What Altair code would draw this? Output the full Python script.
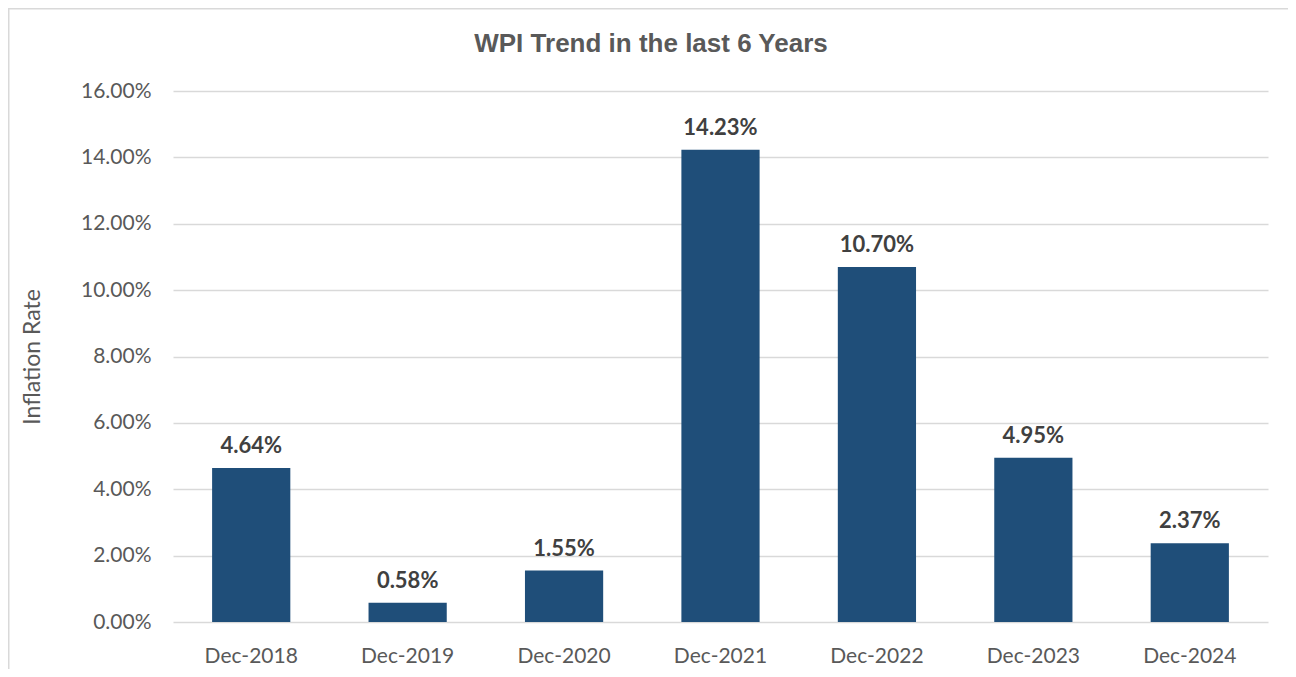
import altair as alt
import pandas as pd

categories = ["Dec-2018", "Dec-2019", "Dec-2020", "Dec-2021", "Dec-2022", "Dec-2023", "Dec-2024"]
values = [4.64, 0.58, 1.55, 14.23, 10.70, 4.95, 2.37]
y_ticks = [0, 2, 4, 6, 8, 10, 12, 14, 16]
title_text = "WPI Trend in the last 6 Years"

df = pd.DataFrame({"period": categories, "rate": [v / 100 for v in values]})

W, H = 1095, 531
PAD = {"left": 165, "top": 83, "right": 20, "bottom": 47}
LABEL_FONT = "Lato"
GRAY = "#595959"

x_enc = alt.X(
    "period:N",
    sort=categories,
    scale=alt.Scale(paddingInner=0.5, paddingOuter=0.25),
    axis=alt.Axis(
        title=None, labelAngle=0, ticks=False, tickSize=0, domain=False, grid=False,
        labelPadding=40, labelBaseline="alphabetic", labelFont=LABEL_FONT,
        labelFontSize=21, labelColor=GRAY,
    ),
)
y_enc = alt.Y(
    "rate:Q",
    scale=alt.Scale(domain=[0, 0.16], nice=False),
    axis=alt.Axis(
        values=[t / 100 for t in y_ticks], format=".2%", title="Inflation Rate",
        ticks=False, tickSize=0, domain=False, grid=True, gridColor="#D9D9D9", gridWidth=1.3,
        labelPadding=22, labelFont=LABEL_FONT, labelFontSize=21, labelColor=GRAY,
        titleFont=LABEL_FONT, titleFontSize=23, titleFontWeight="normal", titleColor=GRAY,
        titleAngle=270, titleX=-134, titleY=H / 2, titleAlign="center", titleBaseline="alphabetic",
    ),
)

bars = alt.Chart(df).mark_bar(color="#1F4E79").encode(x=x_enc, y=y_enc)
labels = alt.Chart(df).mark_text(
    dy=-15, baseline="alphabetic", font=LABEL_FONT, fontWeight="bold", fontSize=22, color="#404040"
).encode(x=alt.X("period:N", sort=categories), y="rate:Q", text=alt.Text("rate:Q", format=".2%"))

title_df = pd.DataFrame({"t": [title_text]})
title = alt.Chart(title_df).mark_text(
    font="Liberation Sans", fontSize=26, fontWeight="bold", color=GRAY,
    align="center", baseline="alphabetic",
).encode(x=alt.value(651 - 173), y=alt.value(52 - 91), text="t:N")

frame_df = pd.DataFrame({"k": [0]})
top_border = alt.Chart(frame_df).mark_rule(color="#D9D9D9", strokeWidth=1.5).encode(
    x=alt.value(-PAD["left"]), x2=alt.value(W + PAD["right"]), y=alt.value(-PAD["top"] + 0.75)
)
left_border = alt.Chart(frame_df).mark_rule(color="#D9D9D9", strokeWidth=1.5).encode(
    x=alt.value(-PAD["left"] + 0.75), y=alt.value(-PAD["top"]), y2=alt.value(H + PAD["bottom"])
)

chart = alt.layer(bars, labels, title, top_border, left_border).properties(
    width=W,
    height=H,
    padding=PAD,
    background="white",
    autosize=alt.AutoSizeParams(type="none"),
).configure_view(strokeWidth=0, stroke="transparent")

chart.save("out.html", embed_options={"renderer": "svg", "actions": False})
